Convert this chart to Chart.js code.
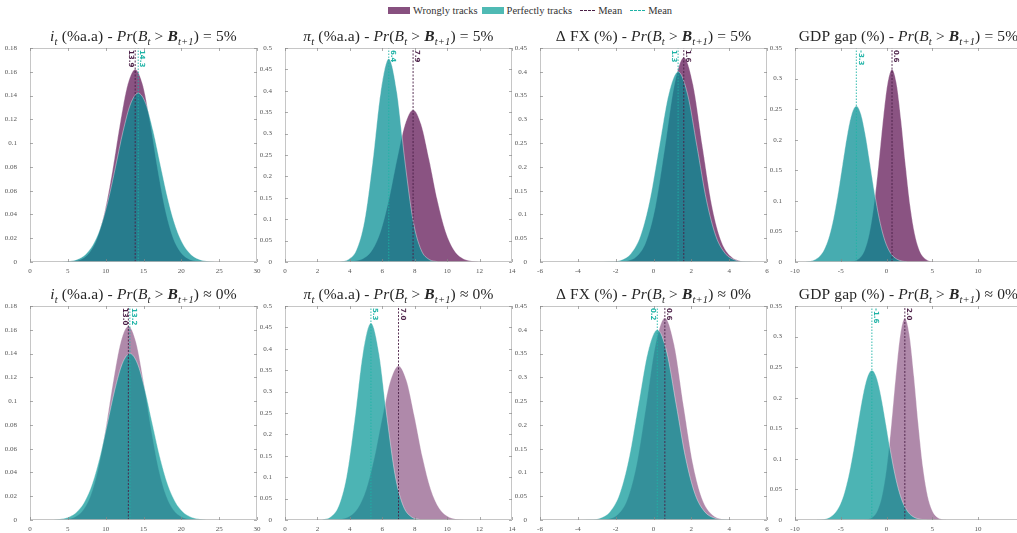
<!DOCTYPE html>
<html>
<head>
<meta charset="utf-8">
<script src="https://cdn.jsdelivr.net/npm/chart.js@4.4.1/dist/chart.umd.min.js"></script>
<style>
  html, body { margin: 0; padding: 0; background: #fff; }
  body { width: 1017px; height: 533px; overflow: hidden; position: relative; font-family: "Liberation Serif", serif; }
  canvas { position: absolute; }
  #legend { position: absolute; left: 388px; top: 5px; display: flex; align-items: center; font-size: 10.5px; color: #333; white-space: nowrap; }
  .sw { display: inline-block; width: 22px; height: 7px; margin-right: 3px; }
  .ln { display: inline-block; width: 15px; height: 0; border-top: 1px dashed; margin: 0 3px 0 4px; }
  .item { display: flex; align-items: center; margin-right: 4px; }
</style>
</head>
<body>
<div id="legend">
  <span class="item"><span class="sw" style="background:#87507f"></span>Wrongly tracks</span>
  <span class="item"><span class="sw" style="background:#4fbab4"></span>Perfectly tracks</span>
  <span class="item"><span class="ln" style="border-color:#4a1f46"></span>Mean</span>
  <span class="item"><span class="ln" style="border-color:#1fb3a6"></span>Mean</span>
</div>
<script>
// ---- Axis settings per column (interest rate, inflation, FX, GDP gap) ----
const yMaxes = [0.18, 0.5, 0.45, 0.35];
const ySteps = [0.02, 0.05, 0.05, 0.05];
const xMins  = [0, 0, -6, -10];
const xMaxes = [30, 14, 6, 14.8];
const xTickLabels = [
  [0, 5, 10, 15, 20, 25, 30],
  [0, 2, 4, 6, 8, 10, 12, 14],
  [-6, -4, -2, 0, 2, 4, 6],
  [-10, -5, 0, 5, 10]
];

// ---- Interest rate, Pr = 5% ----
const rate5WrongX = [4.9, 5.9, 6.9, 7.9, 8.9, 9.9, 10.9, 11.9, 12.9, 13.9, 14.9, 15.9, 16.9, 17.9, 18.9, 19.9, 20.9, 21.9, 22.9];
const rate5WrongY = [0.0002, 0.0008, 0.0028, 0.0083, 0.0205, 0.0432, 0.0770, 0.1164, 0.1492, 0.1620, 0.1492, 0.1164, 0.0770, 0.0432, 0.0205, 0.0083, 0.0028, 0.0008, 0.0002];
const rate5PerfX  = [4.3, 5.3, 6.3, 7.3, 8.3, 9.3, 10.3, 11.3, 12.3, 13.3, 14.3, 15.3, 16.3, 17.3, 18.3, 19.3, 20.3, 21.3, 22.3, 23.3, 24.3];
const rate5PerfY  = [0.0002, 0.0008, 0.0024, 0.0062, 0.0143, 0.0288, 0.0512, 0.0800, 0.1100, 0.1332, 0.1420, 0.1332, 0.1100, 0.0800, 0.0512, 0.0288, 0.0143, 0.0062, 0.0024, 0.0008, 0.0002];
const rate5Means  = [13.9, 14.3];

// ---- Inflation, Pr = 5% ----
const infl5WrongX = [3.9, 4.4, 4.9, 5.4, 5.9, 6.4, 6.9, 7.4, 7.9, 8.4, 8.9, 9.4, 9.9, 10.4, 10.9, 11.4, 11.9];
const infl5WrongY = [0.0006, 0.0027, 0.0098, 0.0294, 0.0721, 0.1448, 0.2383, 0.3213, 0.3550, 0.3213, 0.2383, 0.1448, 0.0721, 0.0294, 0.0098, 0.0027, 0.0006];
const infl5PerfX  = [3.4, 3.9, 4.4, 4.9, 5.4, 5.9, 6.4, 6.9, 7.4, 7.9, 8.4, 8.9, 9.4];
const infl5PerfY  = [0.0008, 0.0057, 0.0279, 0.0964, 0.2338, 0.3979, 0.4750, 0.3979, 0.2338, 0.0964, 0.0279, 0.0057, 0.0008];
const infl5Means  = [7.9, 6.4];

// ---- FX change, Pr = 5% ----
const fx5WrongX = [-1.9, -1.4, -0.9, -0.4, 0.1, 0.6, 1.1, 1.6, 2.1, 2.6, 3.1, 3.6, 4.1, 4.6, 5.1];
const fx5WrongY = [0.0003, 0.0023, 0.0114, 0.0421, 0.1164, 0.2406, 0.3719, 0.4300, 0.3719, 0.2406, 0.1164, 0.0421, 0.0114, 0.0023, 0.0003];
const fx5PerfX  = [-2.7, -2.2, -1.7, -1.2, -0.7, -0.2, 0.3, 0.8, 1.3, 1.8, 2.3, 2.8, 3.3, 3.8, 4.3, 4.8, 5.3];
const fx5PerfY  = [0.0001, 0.0009, 0.0044, 0.0176, 0.0541, 0.1299, 0.2426, 0.3530, 0.4000, 0.3530, 0.2426, 0.1299, 0.0541, 0.0176, 0.0044, 0.0009, 0.0001];
const fx5Means  = [1.6, 1.3];

// ---- GDP gap, Pr = 5% ----
const gdp5WrongX = [-3.9, -3.4, -2.9, -2.4, -1.9, -1.4, -0.9, -0.4, 0.1, 0.6, 1.1, 1.6, 2.1, 2.6, 3.1, 3.6, 4.1, 4.6, 5.1];
const gdp5WrongY = [0.0006, 0.0021, 0.0069, 0.0190, 0.0448, 0.0904, 0.1561, 0.2306, 0.2914, 0.3150, 0.2914, 0.2306, 0.1561, 0.0904, 0.0448, 0.0190, 0.0069, 0.0021, 0.0006];
const gdp5PerfX  = [-8.8, -8.3, -7.8, -7.3, -6.8, -6.3, -5.8, -5.3, -4.8, -4.3, -3.8, -3.3, -2.8, -2.3, -1.8, -1.3, -0.8, -0.3, 0.2, 0.7, 1.2, 1.7, 2.2];
const gdp5PerfY  = [0.0005, 0.0015, 0.0041, 0.0097, 0.0209, 0.0406, 0.0712, 0.1127, 0.1611, 0.2079, 0.2423, 0.2550, 0.2423, 0.2079, 0.1611, 0.1127, 0.0712, 0.0406, 0.0209, 0.0097, 0.0041, 0.0015, 0.0005];
const gdp5Means  = [0.6, -3.3];

// ---- Interest rate, Pr ~ 0% ----
const rate0WrongX = [4, 5, 6, 7, 8, 9, 10, 11, 12, 13, 14, 15, 16, 17, 18, 19, 20, 21, 22];
const rate0WrongY = [0.0002, 0.0008, 0.0028, 0.0081, 0.0203, 0.0430, 0.0770, 0.1168, 0.1500, 0.1630, 0.1500, 0.1168, 0.0770, 0.0430, 0.0203, 0.0081, 0.0028, 0.0008, 0.0002];
const rate0PerfX  = [3.2, 4.2, 5.2, 6.2, 7.2, 8.2, 9.2, 10.2, 11.2, 12.2, 13.2, 14.2, 15.2, 16.2, 17.2, 18.2, 19.2, 20.2, 21.2, 22.2, 23.2];
const rate0PerfY  = [0.0003, 0.0010, 0.0027, 0.0069, 0.0153, 0.0300, 0.0523, 0.0805, 0.1094, 0.1316, 0.1400, 0.1316, 0.1094, 0.0805, 0.0523, 0.0300, 0.0153, 0.0069, 0.0027, 0.0010, 0.0003];
const rate0Means  = [13.0, 13.2];

// ---- Inflation, Pr ~ 0% ----
const infl0WrongX = [3.0, 3.5, 4.0, 4.5, 5.0, 5.5, 6.0, 6.5, 7.0, 7.5, 8.0, 8.5, 9.0, 9.5, 10.0, 10.5, 11.0];
const infl0WrongY = [0.0005, 0.0024, 0.0092, 0.0282, 0.0706, 0.1440, 0.2396, 0.3252, 0.3600, 0.3252, 0.2396, 0.1440, 0.0706, 0.0282, 0.0092, 0.0024, 0.0005];
const infl0PerfX  = [2.3, 2.8, 3.3, 3.8, 4.3, 4.8, 5.3, 5.8, 6.3, 6.8, 7.3, 7.8, 8.3];
const infl0PerfY  = [0.0012, 0.0072, 0.0322, 0.1030, 0.2365, 0.3895, 0.4600, 0.3895, 0.2365, 0.1030, 0.0322, 0.0072, 0.0012];
const infl0Means  = [7.0, 5.3];

// ---- FX change, Pr ~ 0% ----
const fx0WrongX = [-2.9, -2.4, -1.9, -1.4, -0.9, -0.4, 0.1, 0.6, 1.1, 1.6, 2.1, 2.6, 3.1, 3.6, 4.1];
const fx0WrongY = [0.0003, 0.0023, 0.0113, 0.0416, 0.1151, 0.2378, 0.3676, 0.4250, 0.3676, 0.2378, 0.1151, 0.0416, 0.0113, 0.0023, 0.0003];
const fx0PerfX  = [-3.8, -3.3, -2.8, -2.3, -1.8, -1.3, -0.8, -0.3, 0.2, 0.7, 1.2, 1.7, 2.2, 2.7, 3.2, 3.7, 4.2];
const fx0PerfY  = [0.0001, 0.0009, 0.0044, 0.0176, 0.0541, 0.1299, 0.2426, 0.3530, 0.4000, 0.3530, 0.2426, 0.1299, 0.0541, 0.0176, 0.0044, 0.0009, 0.0001];
const fx0Means  = [0.6, 0.2];

// ---- GDP gap, Pr ~ 0% ----
const gdp0WrongX = [-2.5, -2.0, -1.5, -1.0, -0.5, 0.0, 0.5, 1.0, 1.5, 2.0, 2.5, 3.0, 3.5, 4.0, 4.5, 5.0, 5.5, 6.0, 6.5];
const gdp0WrongY = [0.0003, 0.0014, 0.0050, 0.0153, 0.0390, 0.0842, 0.1531, 0.2345, 0.3030, 0.3300, 0.3030, 0.2345, 0.1531, 0.0842, 0.0390, 0.0153, 0.0050, 0.0014, 0.0003];
const gdp0PerfX  = [-7.6, -7.1, -6.6, -6.1, -5.6, -5.1, -4.6, -4.1, -3.6, -3.1, -2.6, -2.1, -1.6, -1.1, -0.6, -0.1, 0.4, 0.9, 1.4, 1.9, 2.4, 2.9, 3.4, 3.9, 4.4];
const gdp0PerfY  = [0.0003, 0.0008, 0.0022, 0.0054, 0.0121, 0.0245, 0.0451, 0.0756, 0.1154, 0.1604, 0.2030, 0.2338, 0.2450, 0.2338, 0.2030, 0.1604, 0.1154, 0.0756, 0.0451, 0.0245, 0.0121, 0.0054, 0.0022, 0.0008, 0.0003];
const gdp0Means  = [2.0, -1.6];

// ---- Panel titles ----
const titleHeads = [
  [['i', 'i'], ['t', 'is'], [' (%a.a)', 'n']],
  [['π', 'i'], ['t', 'is'], [' (%a.a)', 'n']],
  [['Δ FX (%)', 'n']],
  [['GDP gap (%)', 'n']]
];
const titleTails = ['= 5%', '≈ 0%'];

const panels = [
  { col: 0, row: 0, wx: rate5WrongX, wy: rate5WrongY, px: rate5PerfX, py: rate5PerfY, means: rate5Means },
  { col: 1, row: 0, wx: infl5WrongX, wy: infl5WrongY, px: infl5PerfX, py: infl5PerfY, means: infl5Means },
  { col: 2, row: 0, wx: fx5WrongX,   wy: fx5WrongY,   px: fx5PerfX,   py: fx5PerfY,   means: fx5Means },
  { col: 3, row: 0, wx: gdp5WrongX,  wy: gdp5WrongY,  px: gdp5PerfX,  py: gdp5PerfY,  means: gdp5Means },
  { col: 0, row: 1, wx: rate0WrongX, wy: rate0WrongY, px: rate0PerfX, py: rate0PerfY, means: rate0Means },
  { col: 1, row: 1, wx: infl0WrongX, wy: infl0WrongY, px: infl0PerfX, py: infl0PerfY, means: infl0Means },
  { col: 2, row: 1, wx: fx0WrongX,   wy: fx0WrongY,   px: fx0PerfX,   py: fx0PerfY,   means: fx0Means },
  { col: 3, row: 1, wx: gdp0WrongX,  wy: gdp0WrongY,  px: gdp0PerfX,  py: gdp0PerfY,  means: gdp0Means }
];

// ---- Styling ----
const rowFill = [
  { wrong: 'rgba(105,35,95,0.78)', perfect: 'rgba(0,140,145,0.72)' },
  { wrong: 'rgba(110,40,100,0.55)', perfect: 'rgba(0,148,148,0.70)' }
];
const wrongMeanColor = '#4a1f46';
const perfMeanColor = '#1fb3a6';
const tickFont = { family: 'Liberation Serif', size: 7 };
const fmt = v => String(+(+v).toFixed(4));

function toPoints(xs, ys) { return xs.map((x, i) => ({ x: x, y: ys[i] })); }

function drawRuns(ctx, runs, cx, y) {
  let total = 0;
  ctx.letterSpacing = '0.15px';
  const items = runs.map(([t, st]) => {
    const sub = st.includes('s');
    const size = sub ? 10.5 : 15.5;
    const font = (st.includes('b') ? 'bold ' : '') + (st.includes('i') ? 'italic ' : '') + size + 'px "Liberation Serif"';
    ctx.font = font;
    const w = ctx.measureText(t).width;
    total += w;
    return { t, font, w, dy: sub ? 4 : 0 };
  });
  let x = cx - total / 2;
  ctx.fillStyle = '#262626';
  ctx.textBaseline = 'alphabetic';
  ctx.textAlign = 'left';
  items.forEach(it => { ctx.font = it.font; ctx.fillText(it.t, x, y + it.dy); x += it.w; });
  ctx.letterSpacing = '0px';
}

const framePlugin = {
  id: 'frame',
  afterDatasetsDraw(chart) {
    const { ctx, chartArea: a, scales } = chart;
    const p = chart.options.plugins.frame;
    ctx.save();
    // box with inward ticks
    ctx.strokeStyle = '#b8b8b8';
    ctx.lineWidth = 0.8;
    ctx.strokeRect(a.left + 0.5, a.top + 0.5, a.right - a.left - 1, a.bottom - a.top - 1);
    ctx.strokeStyle = '#888';
    ctx.lineWidth = 0.7;
    ctx.beginPath();
    p.xTicks.forEach(v => {
      const x = Math.round(scales.x.getPixelForValue(v)) + 0.5;
      ctx.moveTo(x, a.bottom); ctx.lineTo(x, a.bottom - 3);
      ctx.moveTo(x, a.top); ctx.lineTo(x, a.top + 3);
    });
    scales.y.ticks.forEach(t => {
      const y = Math.round(scales.y.getPixelForValue(t.value)) + 0.5;
      ctx.moveTo(a.left, y); ctx.lineTo(a.left + 3, y);
      ctx.moveTo(a.right, y); ctx.lineTo(a.right - 3, y);
    });
    ctx.stroke();

    // x tick labels under the frame
    ctx.fillStyle = '#555';
    ctx.font = '7px "Liberation Serif"';
    ctx.textAlign = 'center';
    ctx.textBaseline = 'top';
    p.xTicks.forEach(v => {
      ctx.fillText(fmt(v), scales.x.getPixelForValue(v), a.bottom + 6);
    });

    // mean value labels, rotated along the mean lines
    const [mw, mp] = p.means;
    const xw = scales.x.getPixelForValue(mw);
    const xp = scales.x.getPixelForValue(mp);
    const close = Math.abs(xw - xp) < 14;
    const entries = [
      { v: mw, x: xw, color: wrongMeanColor },
      { v: mp, x: xp, color: perfMeanColor }
    ];
    const lower = mw <= mp ? 0 : 1;
    entries.forEach((e, i) => {
      const dx = (close && i === lower) ? -4 : 4;
      ctx.save();
      ctx.translate(e.x + dx, a.top + 2);
      ctx.rotate(Math.PI / 2);
      ctx.fillStyle = e.color;
      ctx.font = 'bold 7px "DejaVu Sans"';
      ctx.textAlign = 'left';
      ctx.textBaseline = 'middle';
      ctx.fillText(e.v.toFixed(1), 0, 0);
      ctx.restore();
    });

    // title
    drawRuns(ctx, p.title, (a.left + a.right) / 2, a.top - 7);
    ctx.restore();
  }
};

panels.forEach(pn => {
  const c = pn.col, r = pn.row;
  const cv = document.createElement('canvas');
  cv.width = 267; cv.height = 258;
  cv.style.left = (255 * c) + 'px';
  cv.style.top = ((r ? 306 : 48) - 30) + 'px';
  document.body.appendChild(cv);

  const yMax = yMaxes[c];
  const fills = rowFill[r];
  const tail = [[' - ', 'n'], ['Pr', 'i'], ['(', 'n'], ['B', 'i'], ['t', 'is'], [' > ', 'n'],
                ['B', 'bi'], ['t+1', 'is'], [') ' + titleTails[r], 'n']];

  new Chart(cv, {
    type: 'line',
    data: {
      datasets: [
        { data: [{ x: pn.means[1], y: 0 }, { x: pn.means[1], y: yMax }], borderColor: perfMeanColor,
          borderWidth: 0.9, borderDash: [1.5, 1.5], pointRadius: 0, fill: false, order: 0 },
        { data: [{ x: pn.means[0], y: 0 }, { x: pn.means[0], y: yMax }], borderColor: wrongMeanColor,
          borderWidth: 0.9, borderDash: [2, 1.5], pointRadius: 0, fill: false, order: 1 },
        { label: 'Perfectly tracks', data: toPoints(pn.px, pn.py), fill: 'origin', backgroundColor: fills.perfect,
          borderColor: 'rgba(255,255,255,0.55)', borderWidth: 0.7, pointRadius: 0,
          cubicInterpolationMode: 'monotone', order: 2 },
        { label: 'Wrongly tracks', data: toPoints(pn.wx, pn.wy), fill: 'origin', backgroundColor: fills.wrong,
          borderColor: 'rgba(255,255,255,0.45)', borderWidth: 0.7, pointRadius: 0,
          cubicInterpolationMode: 'monotone', order: 3 }
      ]
    },
    options: {
      responsive: false,
      animation: false,
      devicePixelRatio: 1,
      layout: { padding: { top: 30, left: 0, right: 10, bottom: 0 } },
      plugins: {
        legend: { display: false },
        tooltip: { enabled: false },
        frame: { means: pn.means, title: titleHeads[c].concat(tail), xTicks: xTickLabels[c] }
      },
      scales: {
        x: {
          type: 'linear', min: xMins[c], max: xMaxes[c],
          grid: { display: false }, border: { display: false },
          ticks: { display: false },
          afterFit: s => { s.height = 14; s.paddingLeft = 0; s.paddingRight = 0; }
        },
        y: {
          min: 0, max: yMax,
          grid: { display: false }, border: { display: false },
          ticks: { stepSize: ySteps[c], font: tickFont, color: '#555', padding: 5, autoSkip: false, callback: fmt },
          afterFit: s => { s.width = 30; s.paddingTop = 0; s.paddingBottom = 0; }
        }
      }
    },
    plugins: [framePlugin]
  });
});
</script>
</body>
</html>
